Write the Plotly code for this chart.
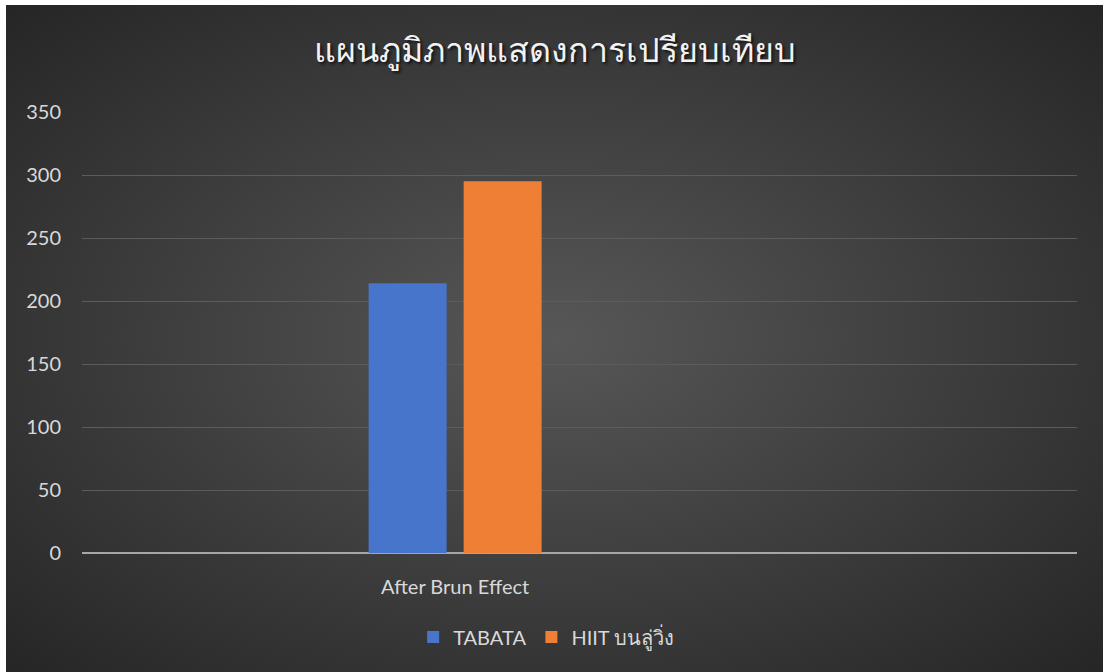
import plotly.graph_objects as go
import urllib.parse

categories = ["After Brun Effect"]
series_names = ["TABATA", "HIIT บนลู่วิ่ง"]
tabata_values = [214]
hiit_values = [295]
y_ticks = [0, 50, 100, 150, 200, 250, 300, 350]

title_text = "แผนภูมิภาพแสดงการเปรียบเทียบ"

FONT = "Lato, 'Open Sans', 'Noto Sans', sans-serif"
TXT = "#d9d9d9"

fig = go.Figure()
fig.add_trace(go.Bar(name=series_names[0], x=categories, y=tabata_values,
                     marker=dict(color="#4675cb", line=dict(width=0))))
fig.add_trace(go.Bar(name=series_names[1], x=categories, y=hiit_values,
                     marker=dict(color="#ef7f34", line=dict(width=0))))

svg = ('<svg xmlns="http://www.w3.org/2000/svg" width="1097" height="667" preserveAspectRatio="none">'
       '<defs><radialGradient id="g" cx="50%" cy="50%" r="70%">'
       '<stop offset="0%" stop-color="#575757"/>'
       '<stop offset="100%" stop-color="#262626"/>'
       '</radialGradient></defs>'
       '<rect width="1097" height="667" fill="url(#g)"/></svg>')
src = "data:image/svg+xml;charset=utf-8," + urllib.parse.quote(svg)

L, R, T, B = 82, 1077, 112, 553
pw, ph = R - L, B - T
fig.add_layout_image(dict(source=src, xref="paper", yref="paper",
                          x=(6 - L) / pw, y=(B - 5) / ph,
                          sizex=(1103 - 6) / pw, sizey=(672 - 5) / ph,
                          xanchor="left", yanchor="top", sizing="stretch",
                          layer="below"))

fig.update_layout(
    width=1103, height=672,
    margin=dict(l=L, r=1103 - R, t=T, b=672 - B),
    paper_bgcolor="white",
    plot_bgcolor="rgba(0,0,0,0)",
    barmode="group", bargap=0.236, bargroupgap=0.179,
    title=dict(text=title_text, x=0.503, xanchor="center", y=1 - 50 / 672, yanchor="middle",
               font=dict(family="'Noto Sans', 'DejaVu Sans', sans-serif", size=34, color="#f2f2f2",
                         shadow="2px 2px 3px rgba(0,0,0,0.7)")),
    xaxis=dict(type="category", range=[-1.5, 2.5], showgrid=False, zeroline=False,
               showline=False, ticks="", ticklabelstandoff=20,
               tickfont=dict(family=FONT, size=20, color=TXT)),
    yaxis=dict(range=[0, 350], tickvals=y_ticks, showgrid=True, gridcolor="#5c5c5c", gridwidth=1,
               zeroline=True, zerolinecolor="#a6a6a6", zerolinewidth=2, showline=False,
               ticks="", ticklabelstandoff=20, tickfont=dict(family=FONT, size=20, color=TXT)),
    legend=dict(orientation="h", x=0.467, xanchor="center", y=(B - 637) / ph, yanchor="middle",
                font=dict(family=FONT, size=20, color=TXT), bgcolor="rgba(0,0,0,0)",
                itemwidth=30),
    showlegend=True,
)
fig.write_html("out.html")
